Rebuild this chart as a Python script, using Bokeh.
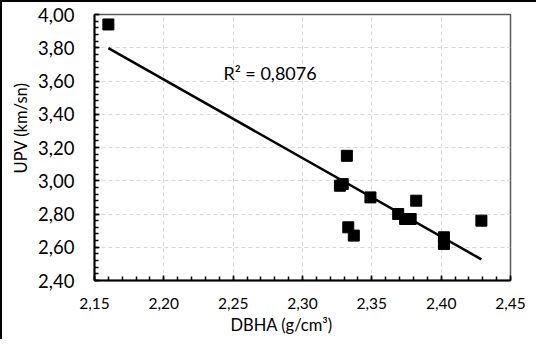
import numpy as np
from bokeh.plotting import figure
from bokeh.models import (FixedTicker, CustomJSTickFormatter, Label, ColumnDataSource,
                          InlineStyleSheet, Range1d, Title)
from bokeh.embed import file_html
from bokeh.resources import INLINE

# data
dbha = [2.160, 2.327, 2.329, 2.332, 2.333, 2.337, 2.349, 2.369, 2.374, 2.378, 2.382, 2.402, 2.402, 2.429]
upv = [3.94, 2.97, 2.98, 3.15, 2.72, 2.67, 2.90, 2.80, 2.77, 2.77, 2.88, 2.66, 2.62, 2.76]
x_ticks = [2.15, 2.20, 2.25, 2.30, 2.35, 2.40, 2.45]
y_ticks = [2.40, 2.60, 2.80, 3.00, 3.20, 3.40, 3.60, 3.80, 4.00]
x_minor = [round(2.15 + 0.01 * i, 2) for i in range(31)]
y_minor = [round(2.40 + 0.04 * i, 2) for i in range(41)]
r2_text = "R² = 0,8076"
x_title = "DBHA (g/cm³)"
y_title = "UPV (km/sn)"

FONT = "Lato"

css = InlineStyleSheet(css=":host { border-left: 2px solid black; border-top: 2px solid black; }")

p = figure(width=536, height=339, output_backend="svg", toolbar_location=None,
           x_range=Range1d(2.15, 2.45), y_range=Range1d(2.40, 4.00),
           min_border_left=92, min_border_right=28, min_border_top=12, min_border_bottom=61,
           stylesheets=[css])
p.background_fill_color = "white"
p.border_fill_color = "white"
p.outline_line_color = "#595959"
p.outline_line_width = 1.5

p.xaxis.ticker = FixedTicker(ticks=x_ticks, minor_ticks=x_minor)
p.yaxis.ticker = FixedTicker(ticks=y_ticks, minor_ticks=y_minor)
p.xaxis.formatter = CustomJSTickFormatter(code="return tick.toFixed(2).replace('.', ',');")
p.yaxis.formatter = CustomJSTickFormatter(code="return tick.toFixed(2).replace('.', ',');")

for ax in (p.xaxis[0], p.yaxis[0]):
    ax.axis_line_color = "black"
    ax.axis_line_width = 2
    ax.major_tick_line_color = "black"
    ax.minor_tick_line_color = "black"
    ax.major_tick_line_width = 1.5
    ax.minor_tick_line_width = 1.5
    ax.major_tick_in = 5
    ax.major_tick_out = 0
    ax.minor_tick_in = 4
    ax.minor_tick_out = 0
    ax.major_label_text_font = FONT
    ax.major_label_text_color = "black"

p.xaxis.major_label_text_font_size = "15.5px"
p.yaxis.major_label_text_font_size = "18.5px"
p.xaxis.major_label_standoff = 17
p.yaxis.major_label_standoff = 20

p.xgrid.grid_line_color = "#d9d9d9"
p.ygrid.grid_line_color = "#d9d9d9"
p.xgrid.grid_line_dash = "4 3"
p.ygrid.grid_line_dash = "4 3"
p.xgrid.grid_line_width = 1
p.ygrid.grid_line_width = 1

# trendline (least squares)
slope, icpt = np.polyfit(dbha, upv, 1)
xs = [min(dbha), max(dbha)]
ys = [slope * v + icpt for v in xs]
p.line(xs, ys, line_color="black", line_width=2.5)

src = ColumnDataSource(dict(x=dbha, y=upv))
p.scatter("x", "y", source=src, marker="square", size=11, fill_color="black", line_color="black")

p.add_layout(Label(x=2.243, y=3.651, text=r2_text, text_font=FONT, text_font_size="18px",
                   text_baseline="middle", text_align="left", text_color="black"))

p.add_layout(Title(text=x_title, align="left", offset=136, text_font=FONT,
                   text_font_size="16.5px", text_font_style="normal", standoff=3,
                   text_color="black"), "below")
p.add_layout(Title(text=y_title, align="left", offset=107, text_font=FONT,
                   text_font_size="16.5px", text_font_style="normal", standoff=10,
                   text_color="black"), "left")

open("out.html", "w").write(file_html(p, INLINE))
